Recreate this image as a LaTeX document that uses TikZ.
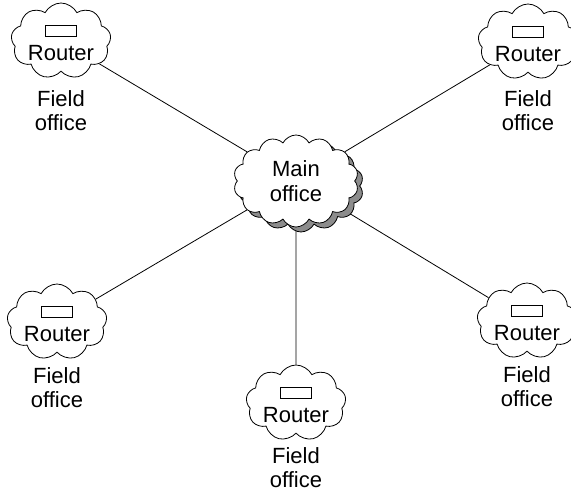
\documentclass[tikz,border=0pt]{standalone}
\usepackage{fontspec}
\setmainfont{Liberation Sans}
\usetikzlibrary{positioning, shapes.symbols, shadows, backgrounds}

\tikzset{
  sitecloud/.style={cloud, draw, fill=white, line width=0.8pt, cloud puffs=9,
    cloud puff arc=125, cloud ignores aspect, minimum width=100pt,
    minimum height=76pt, inner sep=0pt},
  maincloud/.style={sitecloud, cloud puffs=14, minimum width=125pt,
    minimum height=92pt, align=center, font=\fontsize{22}{24.5}\selectfont,
    copy shadow={shadow xshift=5pt, shadow yshift=-5pt, fill=black!45,
      draw=black, line width=0.8pt}},
  routerbox/.style={draw, line width=0.7pt, minimum width=31pt,
    minimum height=11pt, inner sep=0pt},
  sitetext/.style={font=\fontsize{22}{24.5}\selectfont, inner sep=0pt,
    align=center},
  link/.style={line width=0.8pt},
}

\begin{document}
\begin{tikzpicture}[x=1pt, y=-1pt]
  \useasboundingbox (0,0) rectangle (571,494);
  \node[maincloud] (main) at (296,181) {Main\\office};
  % field offices: name/x/y/label drop
  \foreach \n/\x/\y/\d in {tl/61/41/49, tr/528/42/48, bl/57/322/45,
                          bm/296/403/44, br/527/321/45}{%
    \node[sitecloud] (c\n) at (\x,\y) {};
    \node[routerbox] (r\n) at ([yshift=10pt]c\n.center) {};
    \node[sitetext, anchor=base] (t\n) at ([yshift=-20pt]c\n.center) {Router};
    \node[sitetext, anchor=north] (f\n) at ([yshift=-\d pt]c\n.center) {Field\\office};
  }
  \begin{pgfonlayer}{background}
    \foreach \n in {tl,tr,bl,bm,br}
      \draw[link] (c\n) -- (main);
  \end{pgfonlayer}
\end{tikzpicture}
\end{document}
